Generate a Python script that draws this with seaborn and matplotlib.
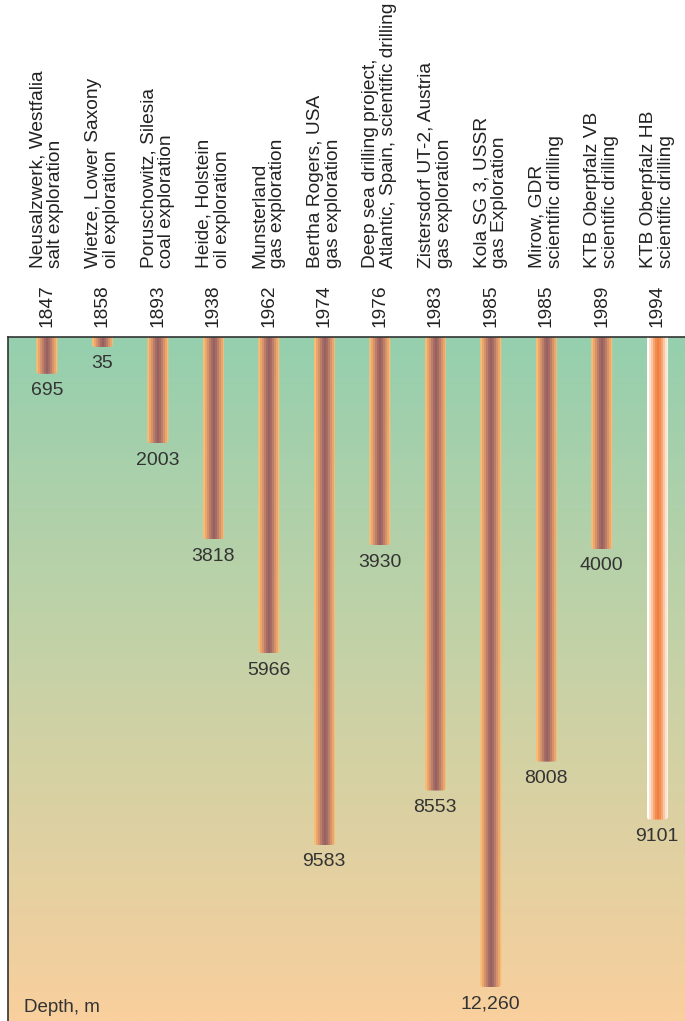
import numpy as np
import pandas as pd
import matplotlib
matplotlib.use("Agg")
import matplotlib.pyplot as plt
import seaborn as sns
from matplotlib.colors import LinearSegmentedColormap, to_rgb
from matplotlib.patches import FancyBboxPatch

years = ["1847", "1858", "1893", "1938", "1962", "1974",
         "1976", "1983", "1985", "1985", "1989", "1994"]
sites = [
    "Neusalzwerk, Westfalia\nsalt exploration",
    "Wietze, Lower Saxony\noil exploration",
    "Poruschowitz, Silesia\ncoal exploration",
    "Heide, Holstein\noil exploration",
    "Munsterland\ngas exploration",
    "Bertha Rogers, USA\ngas exploration",
    "Deep sea drilling project,\nAtlantic, Spain, scientific drilling",
    "Zistersdorf UT-2, Austria\ngas exploration",
    "Kola SG 3, USSR\ngas Exploration",
    "Mirow, GDR\nscientific drilling",
    "KTB Oberpfalz VB\nscientific drilling",
    "KTB Oberpfalz HB\nscientific drilling",
]
depths = [695, 35, 2003, 3818, 5966, 9583, 3930, 8553, 12260, 8008, 4000, 9101]
depth_labels = ["695", "35", "2003", "3818", "5966", "9583",
                "3930", "8553", "12,260", "8008", "4000", "9101"]

df = pd.DataFrame({"well": [f"{y}-{i}" for i, y in enumerate(years)], "depth": depths})

pipe_stripes = ["#f7bd75", "#eba66b", "#d6936b", "#bb7f69", "#a46c64", "#98615f",
                "#a46c64", "#bb7f69", "#d6936b", "#eba66b", "#f7bd75"]
ktb_stripes = ["#ffffff", "#fde3cf", "#fbc7a2", "#f7a672", "#f28c52", "#ef8040",
               "#f28c52", "#f7a672", "#fbc7a2", "#fde3cf", "#ffffff"]
bg_cmap = LinearSegmentedColormap.from_list("bg", ["#95cfae", "#c8d2a6", "#f9cf9d"])

sns.set_theme(style="white")
plt.rcParams["font.family"] = ["Liberation Sans", "DejaVu Sans"]

fig = plt.figure(figsize=(6.85, 10.21), dpi=100)
ax = fig.add_axes([8 / 685, 0.0, 677 / 685, 684 / 1021])

sns.barplot(data=df, x="well", y="depth", width=0.38, color="#a96c64",
            ax=ax, zorder=2)

ax.set_xlim(-0.7, 11.5)
ax.set_ylim(12900, 0)

# background gradient, green at the surface to sand at depth
grad = np.linspace(0, 1, 256).reshape(-1, 1)
ax.imshow(grad, cmap=bg_cmap, aspect="auto", origin="upper",
          extent=[0, 1, 0, 1], transform=ax.transAxes, zorder=0)

# pixel aspect so the rounded ends look round
fig.canvas.draw()
p0 = ax.transData.transform((0, 0))
p1 = ax.transData.transform((1, 1000))
px_per_x = abs(p1[0] - p0[0])
px_per_y = abs(p1[1] - p0[1]) / 1000
aspect = px_per_x / px_per_y
min_len = 10 / px_per_y  # very short wells still show a stub

ends = []
for i, patch in enumerate(list(ax.patches)):
    x0, y0 = patch.get_x(), patch.get_y()
    w, h = patch.get_width(), patch.get_height()
    top = min(y0, y0 + h)
    bottom = top + max(abs(h), min_len)
    ends.append(bottom)
    cols = ktb_stripes if i == len(depths) - 1 else pipe_stripes
    rgb = np.array([[to_rgb(c) for c in cols]])
    im = ax.imshow(rgb, aspect="auto", interpolation="nearest",
                   extent=[x0, x0 + w, bottom, top - 300], zorder=3)
    clip = FancyBboxPatch((x0, top - 300), w, bottom - top + 300,
                          boxstyle="round,pad=0,rounding_size=0.055",
                          mutation_aspect=aspect, transform=ax.transData,
                          facecolor="none", edgecolor="none")
    ax.add_patch(clip)
    im.set_clip_path(clip)
    patch.set_visible(False)

ax.set_xlim(-0.7, 11.5)
ax.set_ylim(12900, 0)

for i, (end, lab) in enumerate(zip(ends, depth_labels)):
    ax.annotate(lab, xy=(i, end), xytext=(0, -6), textcoords="offset points",
                ha="center", va="top", fontsize=14, color="#333333", zorder=4)

for i, (yr, site) in enumerate(zip(years, sites)):
    ax.annotate(yr, xy=(i, 1), xycoords=("data", "axes fraction"),
                xytext=(0, 7), textcoords="offset points", rotation=90,
                ha="center", va="bottom", fontsize=13.8, color="#222222",
                annotation_clip=False)
    ax.annotate(site, xy=(i, 1), xycoords=("data", "axes fraction"),
                xytext=(0, 50), textcoords="offset points", rotation=90,
                ha="center", va="bottom", multialignment="left",
                fontsize=13.8, color="#222222", linespacing=1.1,
                annotation_clip=False)

ax.text(0.023, 0.008, "Depth, m", transform=ax.transAxes, fontsize=13.5,
        color="#333333", ha="left", va="bottom")

ax.set_xlabel("")
ax.set_ylabel("")
ax.set_xticks([])
ax.set_yticks([])
for side in ["top", "left"]:
    ax.spines[side].set_color("#333333")
    ax.spines[side].set_linewidth(1.2)
    ax.spines[side].set_zorder(5)
for side in ["right", "bottom"]:
    ax.spines[side].set_visible(False)

fig.savefig("out.png", dpi=100)
